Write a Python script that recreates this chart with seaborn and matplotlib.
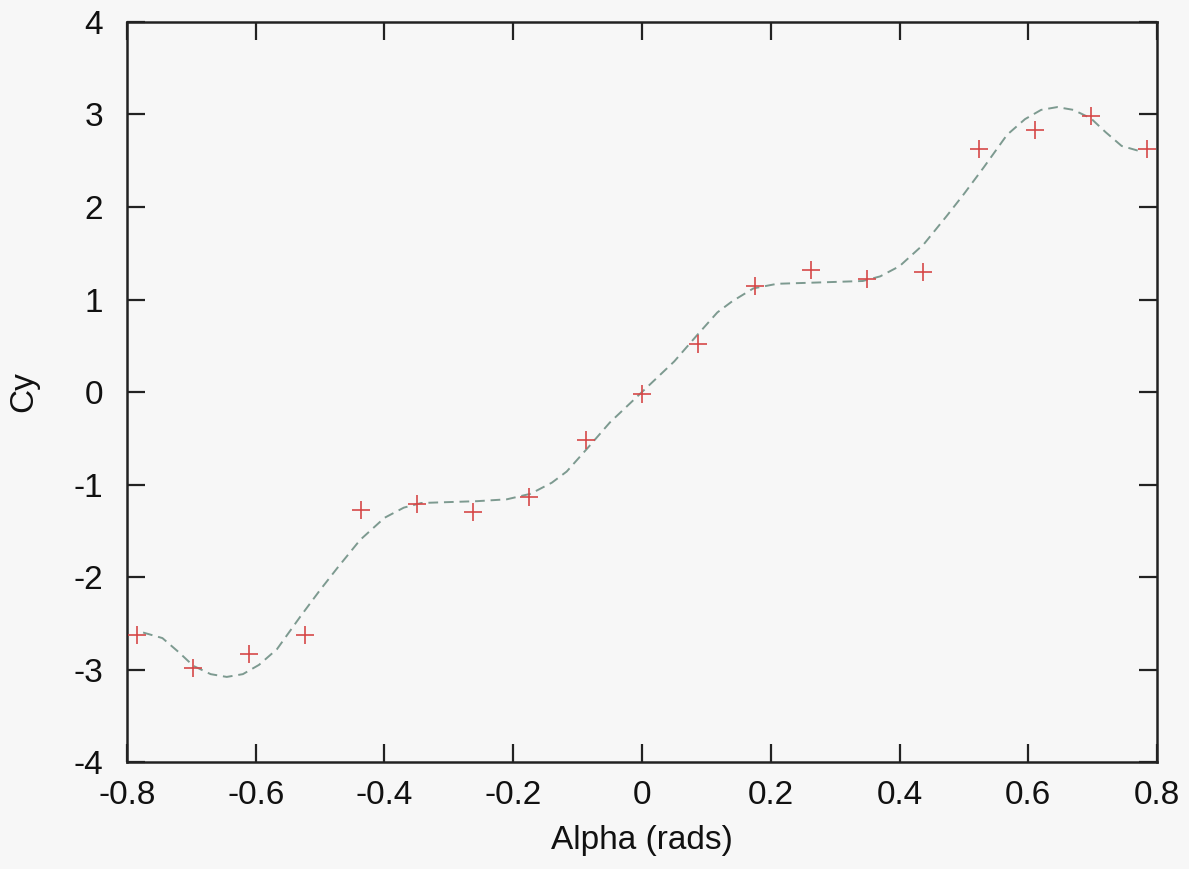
import matplotlib
matplotlib.use("Agg")
import matplotlib.pyplot as plt
import seaborn as sns
import pandas as pd

# measured data points
alpha = [-0.785, -0.698, -0.611, -0.524, -0.436, -0.349, -0.262, -0.175, -0.087,
         0.0, 0.087, 0.175, 0.262, 0.349, 0.436, 0.524, 0.611, 0.698, 0.785]
cy = [-2.63, -2.98, -2.83, -2.63, -1.28, -1.21, -1.30, -1.13, -0.52,
      -0.02, 0.52, 1.15, 1.32, 1.22, 1.30, 2.63, 2.83, 2.98, 2.63]

# fitted curve
fit_x = [-0.775, -0.745, -0.72, -0.697, -0.67, -0.645, -0.62, -0.595, -0.567, -0.531,
         -0.50, -0.473, -0.438, -0.40, -0.37, -0.343, -0.30, -0.256, -0.21, -0.173,
         -0.14, -0.117, -0.085, -0.05, 0.0, 0.05, 0.085, 0.117, 0.14, 0.173,
         0.21, 0.256, 0.30, 0.343, 0.37, 0.40, 0.438, 0.473, 0.50, 0.531,
         0.567, 0.595, 0.62, 0.645, 0.67, 0.697, 0.72, 0.745, 0.775]
fit_y = [-2.60, -2.66, -2.81, -2.96, -3.05, -3.08, -3.05, -2.95, -2.78, -2.43,
         -2.14, -1.90, -1.60, -1.36, -1.25, -1.20, -1.19, -1.18, -1.16, -1.10,
         -0.98, -0.86, -0.61, -0.33, 0.0, 0.33, 0.61, 0.86, 0.98, 1.12,
         1.17, 1.18, 1.19, 1.20, 1.25, 1.36, 1.60, 1.90, 2.14, 2.43,
         2.78, 2.95, 3.05, 3.08, 3.05, 2.96, 2.81, 2.66, 2.60]

xticks = [-0.8, -0.6, -0.4, -0.2, 0, 0.2, 0.4, 0.6, 0.8]
xticklabels = ["-0.8", "-0.6", "-0.4", "-0.2", "0", "0.2", "0.4", "0.6", "0.8"]
yticks = [-4, -3, -2, -1, 0, 1, 2, 3, 4]
yticklabels = ["-4", "-3", "-2", "-1", "0", "1", "2", "3", "4"]

sns.set_style("ticks")
plt.rcParams['font.family'] = ['Liberation Sans', 'DejaVu Sans']

FS = 24
fig = plt.figure(figsize=(11.89, 8.69), dpi=100, facecolor='#f7f7f7')
ax = fig.add_axes([0.1068, 0.1231, 0.8663, 0.8516])
ax.set_facecolor('#f7f7f7')

pts = pd.DataFrame({"alpha": alpha, "cy": cy})
fit = pd.DataFrame({"alpha": fit_x, "cy": fit_y})

sns.lineplot(data=fit, x="alpha", y="cy", ax=ax, color='#7d9a90', linewidth=1.4,
             linestyle=(0, (5, 3)), sort=False, zorder=2)
sns.scatterplot(data=pts, x="alpha", y="cy", ax=ax, marker='+', s=150,
                color='#d64848', linewidth=1.2, zorder=3)

ax.set_xlim(-0.8, 0.8)
ax.set_ylim(-4, 4)
ax.set_xticks(xticks)
ax.set_xticklabels(xticklabels, fontsize=FS)
ax.set_yticks(yticks)
ax.set_yticklabels(yticklabels, fontsize=FS)
ax.tick_params(direction='in', length=13, width=1.6, color='#222222',
               top=True, right=True, labelcolor='#111111')
ax.tick_params(axis='x', pad=13)
ax.tick_params(axis='y', pad=17)
for s in ax.spines.values():
    s.set_linewidth(1.8)
    s.set_color('#222222')
ax.set_xlabel("Alpha (rads)", fontsize=FS, color='#111111')
ax.set_ylabel("Cy", fontsize=FS, color='#111111')
ax.xaxis.set_label_coords(0.5, -0.085)
ax.yaxis.set_label_coords(-0.085, 0.5)

fig.savefig("out.png", dpi=100, facecolor=fig.get_facecolor())
